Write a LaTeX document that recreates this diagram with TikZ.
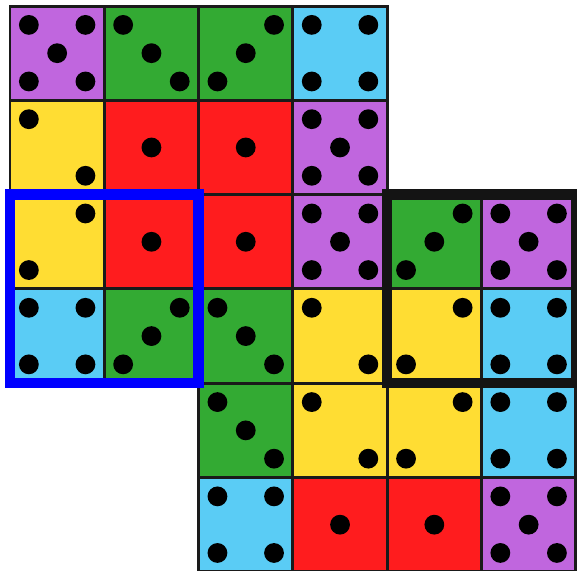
\documentclass[tikz,border=0pt]{standalone}
\usepackage{tikz}
\definecolor{diepurple}{RGB}{192,102,222}
\definecolor{diegreen}{RGB}{51,170,51}
\definecolor{diered}{RGB}{255,28,30}
\definecolor{dieyellow}{RGB}{255,221,51}
\definecolor{dieblue}{RGB}{90,204,245}
\definecolor{gridline}{RGB}{26,26,26}
\definecolor{frameblue}{RGB}{0,0,255}
\definecolor{frameblack}{RGB}{20,20,20}
% pip offsets for each face
\def\pipsI{0/0}
\def\pipsIIa{-1/1,1/-1}
\def\pipsIIb{1/1,-1/-1}
\def\pipsIIIa{-1/1,0/0,1/-1}
\def\pipsIIIb{1/1,0/0,-1/-1}
\def\pipsIV{-1/1,1/1,-1/-1,1/-1}
\def\pipsV{-1/1,1/1,0/0,-1/-1,1/-1}

\begin{document}
\begin{tikzpicture}[
  die/.style={draw=gridline,line width=0.9pt,minimum size=1cm,inner sep=0pt,outer sep=0pt},
  pip/.style={fill=black},
  frame/.style={line width=3.1pt}
]
  \useasboundingbox (-0.106,0.064) rectangle (6.013,-5.983);
  \foreach \r/\c/\col/\p in {
      0/0/diepurple/V, 0/1/diegreen/IIIa, 0/2/diegreen/IIIb, 0/3/dieblue/IV,
      1/0/dieyellow/IIa, 1/1/diered/I, 1/2/diered/I, 1/3/diepurple/V,
      2/0/dieyellow/IIb, 2/1/diered/I, 2/2/diered/I, 2/3/diepurple/V, 2/4/diegreen/IIIb, 2/5/diepurple/V,
      3/0/dieblue/IV, 3/1/diegreen/IIIb, 3/2/diegreen/IIIa, 3/3/dieyellow/IIa, 3/4/dieyellow/IIb, 3/5/dieblue/IV,
      4/2/diegreen/IIIa, 4/3/dieyellow/IIa, 4/4/dieyellow/IIb, 4/5/dieblue/IV,
      5/2/dieblue/IV, 5/3/diered/I, 5/4/diered/I, 5/5/diepurple/V} {
    \node[die,fill=\col] (d-\r-\c) at (\c+0.5,-\r-0.5) {};
    \expandafter\let\expandafter\pipset\csname pips\p\endcsname
    \foreach \dx/\dy in \pipset
      \fill[pip] ([shift={(0.3*\dx,0.3*\dy)}]d-\r-\c.center) circle (0.105);
  }
  % the two marked blocks
  \draw[frame,frameblue] (d-2-0.north west) rectangle (d-3-1.south east);
  \draw[frame,frameblack] (d-2-4.north west) rectangle (d-3-5.south east);
\end{tikzpicture}
\end{document}
